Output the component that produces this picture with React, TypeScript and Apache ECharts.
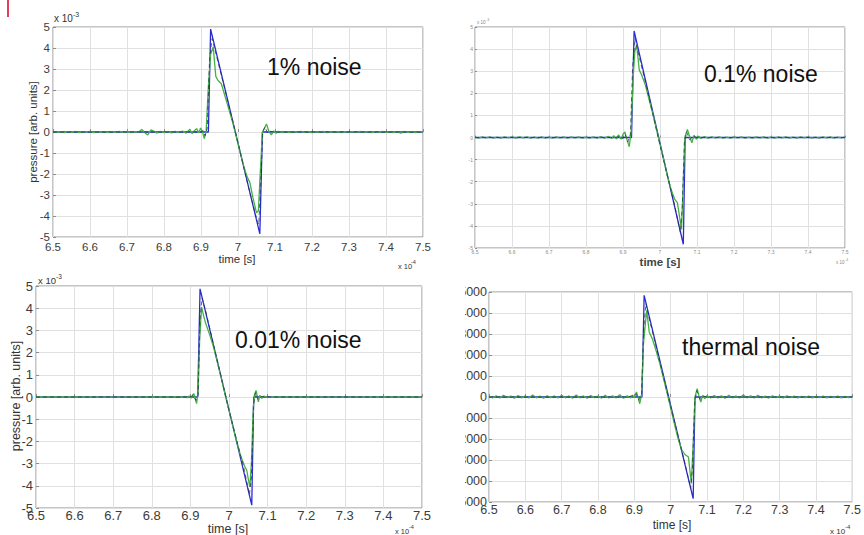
import React, { useEffect, useRef } from "react";
import * as echarts from "echarts";

const FONT = "'Liberation Sans', Arial, Helvetica, sans-serif";

// Time axis in units of 1e-4 s
const timeRange = [6.5, 7.5];
const timeStep = 0.1;
// Pressure axes: arb. units x 1e-3 for the noise cases, raw units for thermal
const pressureRange = [-5, 5];
const pressureStep = 1;
const thermalRange = [-5000, 5000];
const thermalStep = 1000;

const panelTitles = ["1% noise", "0.1% noise", "0.01% noise", "thermal noise"];

// ---- 1% noise ----
const noise1True = [[6.5, 0], [6.92, 0], [6.926, 4.9], [7.059, -4.85], [7.066, 0], [7.5, 0]];
const noise1Recon = [
  [6.5, 0.03], [6.51, -0.02], [6.52, 0.02], [6.53, -0.03], [6.54, 0.02], [6.55, -0.02], [6.56, 0.03], [6.57, -0.03],
  [6.58, 0.02], [6.59, -0.01], [6.6, 0.03], [6.61, -0.03], [6.62, 0.02], [6.63, -0.02], [6.64, 0.02], [6.65, -0.03],
  [6.66, 0.02], [6.67, -0.02], [6.68, 0.03], [6.69, -0.02], [6.7, 0.02], [6.71, -0.03], [6.72, 0.02], [6.73, -0.02],
  [6.74, 0.12], [6.75, -0.06], [6.756, -0.14], [6.765, 0.1], [6.772, 0.04], [6.78, -0.05], [6.79, 0.03], [6.8, -0.03],
  [6.81, 0.02], [6.82, -0.04], [6.83, 0.03], [6.84, -0.02], [6.85, 0.04], [6.86, -0.05], [6.87, 0.13], [6.876, -0.08],
  [6.882, 0.06], [6.888, 0.16], [6.894, -0.04], [6.899, 0.19], [6.904, 0.02], [6.909, -0.32], [6.914, 0.05],
  [6.92, 2.2], [6.926, 3.7], [6.933, 4.05], [6.94, 2.65], [6.946, 2.45], [6.955, 2.3], [6.965, 1.7], [6.975, 1.1],
  [6.985, 0.5], [6.995, -0.2], [7.005, -0.9], [7.015, -1.6], [7.025, -2.15], [7.032, -2.4], [7.04, -3.1],
  [7.05, -3.85], [7.055, -3.75], [7.06, -2.0], [7.066, 0.0], [7.072, 0.2], [7.077, 0.38], [7.083, 0.05],
  [7.09, -0.14], [7.097, 0.05], [7.103, -0.06], [7.11, 0.03], [7.12, -0.03], [7.13, 0.02], [7.14, -0.03],
  [7.15, 0.02], [7.16, -0.02], [7.17, 0.03], [7.18, -0.02], [7.19, 0.02], [7.2, -0.03], [7.21, 0.02], [7.22, -0.02],
  [7.23, 0.03], [7.24, -0.03], [7.25, 0.02], [7.26, -0.02], [7.27, 0.02], [7.28, -0.03], [7.29, 0.02], [7.3, -0.02],
  [7.31, 0.02], [7.32, -0.02], [7.33, 0.03], [7.34, -0.02], [7.35, 0.02], [7.36, -0.03], [7.37, 0.02], [7.38, -0.02],
  [7.39, 0.03], [7.4, -0.02], [7.41, 0.02], [7.42, -0.03], [7.43, 0.02], [7.44, -0.06], [7.45, 0.03], [7.46, -0.02],
  [7.47, 0.02], [7.48, -0.03], [7.49, 0.02], [7.5, 0.01],
];
const noise1Filtered = [
  [6.5, 0], [6.9, 0], [6.906, 0.06], [6.911, -0.18], [6.917, 0.2], [6.923, 3.4], [6.93, 4.45], [6.94, 3.75],
  [6.96, 2.35], [6.995, -0.15], [7.03, -2.75], [7.05, -4.1], [7.056, -4.4], [7.061, -2.6], [7.067, 0.0],
  [7.073, 0.25], [7.08, -0.06], [7.088, 0.03], [7.1, 0], [7.5, 0],
];

// ---- 0.1% noise ----
const noise01True = [[6.5, 0], [6.923, 0], [6.93, 4.82], [7.063, -4.83], [7.068, 0], [7.5, 0]];
const noise01Recon = [
  [6.5, 0.02], [6.51, -0.03], [6.52, 0.03], [6.53, -0.02], [6.54, 0.03], [6.55, -0.03], [6.56, 0.02], [6.57, -0.03],
  [6.58, 0.03], [6.59, -0.02], [6.6, 0.03], [6.61, -0.03], [6.62, 0.03], [6.63, -0.02], [6.64, 0.03], [6.65, -0.03],
  [6.66, 0.02], [6.67, -0.03], [6.68, 0.03], [6.69, -0.03], [6.7, 0.02], [6.71, -0.03], [6.72, 0.03], [6.73, -0.02],
  [6.74, 0.03], [6.75, -0.03], [6.76, 0.03], [6.77, -0.02], [6.78, 0.03], [6.79, -0.03], [6.8, 0.02], [6.81, -0.03],
  [6.82, 0.03], [6.83, -0.03], [6.84, 0.04], [6.85, -0.03], [6.86, 0.05], [6.87, -0.04], [6.875, 0.08],
  [6.882, -0.06], [6.888, 0.12], [6.895, -0.08], [6.9, 0.15], [6.905, 0.25], [6.911, -0.12], [6.917, -0.42],
  [6.922, 0.3], [6.927, 2.6], [6.932, 3.9], [6.937, 4.18], [6.944, 3.05], [6.95, 2.85], [6.96, 2.4], [6.97, 1.75],
  [6.98, 1.1], [6.99, 0.4], [7.0, -0.3], [7.01, -1.0], [7.02, -1.75], [7.03, -2.35], [7.04, -2.8], [7.047, -2.95],
  [7.053, -3.6], [7.058, -4.16], [7.062, -2.5], [7.067, 0.0], [7.074, 0.36], [7.08, 0.05], [7.086, -0.24],
  [7.092, 0.1], [7.098, -0.08], [7.105, 0.06], [7.11, -0.04], [7.12, 0.04], [7.13, -0.03], [7.14, 0.03],
  [7.15, -0.02], [7.16, 0.03], [7.17, -0.03], [7.18, 0.02], [7.19, -0.03], [7.2, 0.03], [7.21, -0.02], [7.22, 0.03],
  [7.23, -0.03], [7.24, 0.02], [7.25, -0.03], [7.26, 0.03], [7.27, -0.02], [7.28, 0.03], [7.29, -0.03], [7.3, 0.02],
  [7.31, -0.03], [7.32, 0.03], [7.33, -0.02], [7.34, 0.03], [7.35, -0.03], [7.36, 0.02], [7.37, -0.03], [7.38, 0.03],
  [7.39, -0.02], [7.4, 0.03], [7.41, -0.03], [7.42, 0.02], [7.43, -0.03], [7.44, 0.03], [7.45, -0.02], [7.46, 0.03],
  [7.47, -0.03], [7.48, 0.02], [7.49, -0.02], [7.5, 0.02],
];
const noise01Filtered = [
  [6.5, 0], [6.88, 0], [6.89, 0.05], [6.9, -0.05], [6.906, 0.15], [6.913, -0.2], [6.92, 0.15], [6.926, 3.2],
  [6.933, 4.5], [6.94, 3.9], [6.96, 2.55], [7.0, -0.35], [7.04, -3.1], [7.055, -4.3], [7.06, -3.2], [7.066, -0.2],
  [7.072, 0.25], [7.08, -0.1], [7.09, 0.05], [7.1, 0], [7.5, 0],
];

// ---- 0.01% noise ----
const noise001True = [[6.5, 0], [6.919, 0], [6.925, 4.87], [7.059, -4.87], [7.064, 0], [7.5, 0]];
const noise001Recon = [
  [6.5, 0], [6.6, 0.005], [6.7, -0.005], [6.8, 0.005], [6.85, 0], [6.87, 0.02], [6.88, -0.02], [6.886, 0.03],
  [6.892, -0.03], [6.897, 0.05], [6.902, -0.05], [6.906, 0.1], [6.909, 0.15], [6.913, -0.1], [6.916, -0.3],
  [6.92, 0.25], [6.924, 2.6], [6.929, 4.05], [6.935, 3.6], [6.94, 3.3], [6.95, 2.8], [6.96, 2.25], [6.97, 1.55],
  [6.98, 0.85], [6.99, 0.1], [7.0, -0.6], [7.01, -1.3], [7.02, -2.0], [7.03, -2.65], [7.04, -3.1], [7.046, -3.3],
  [7.05, -3.7], [7.054, -4.05], [7.058, -3.0], [7.063, -0.5], [7.066, 0.1], [7.07, 0.3], [7.073, 0.05],
  [7.076, -0.22], [7.08, 0.08], [7.085, -0.06], [7.09, 0.04], [7.1, -0.02], [7.11, 0.01], [7.12, 0], [7.2, 0.005],
  [7.3, -0.005], [7.4, 0.005], [7.5, 0],
];
const noise001Filtered = [
  [6.5, 0], [6.9, 0], [6.908, 0.08], [6.914, -0.15], [6.92, 0.1], [6.925, 3.5], [6.93, 4.45], [6.94, 3.85],
  [6.96, 2.35], [7.0, -0.6], [7.04, -3.3], [7.053, -4.4], [7.058, -3.6], [7.064, -0.3], [7.069, 0.2],
  [7.075, -0.1], [7.085, 0.02], [7.1, 0], [7.5, 0],
];

// ---- thermal noise ----
const thermalTrue = [[6.5, 0], [6.921, 0], [6.927, 4840], [7.062, -4840], [7.067, 0], [7.5, 0]];
const thermalRecon = [
  [6.5, 30], [6.51, -40], [6.52, 60], [6.53, -50], [6.54, 80], [6.55, -30], [6.56, 40], [6.57, -60], [6.58, 70],
  [6.59, -40], [6.6, 50], [6.61, -50], [6.62, 90], [6.63, -40], [6.64, 40], [6.65, -60], [6.66, 60], [6.67, -30],
  [6.68, 50], [6.69, -50], [6.7, 80], [6.71, -40], [6.72, 50], [6.73, -60], [6.74, 90], [6.75, -40], [6.76, 50],
  [6.77, -60], [6.78, 70], [6.79, -30], [6.8, 40], [6.81, -50], [6.82, 80], [6.83, -50], [6.84, 60], [6.85, -40],
  [6.86, 110], [6.87, -60], [6.88, 60], [6.89, -40], [6.895, 90], [6.9, -30], [6.906, 240], [6.911, -60],
  [6.915, -320], [6.92, 120], [6.925, 2500], [6.934, 4130], [6.941, 3100], [6.95, 2750], [6.96, 2200],
  [6.97, 1600], [6.98, 900], [6.99, 200], [7.0, -520], [7.01, -1250], [7.02, -1950], [7.03, -2500], [7.04, -2750],
  [7.049, -2860], [7.053, -3500], [7.057, -4120], [7.062, -2200], [7.067, 0], [7.073, 400], [7.078, 50],
  [7.083, -240], [7.088, 80], [7.094, -80], [7.1, 60], [7.11, -50], [7.12, 70], [7.13, -40], [7.14, 60],
  [7.15, -60], [7.16, 80], [7.17, -40], [7.18, 50], [7.19, -50], [7.2, 90], [7.21, -40], [7.22, 60], [7.23, -50],
  [7.24, 80], [7.25, -40], [7.26, 40], [7.27, -50], [7.28, 60], [7.29, -30], [7.3, 40], [7.31, -40], [7.32, 50],
  [7.33, -30], [7.34, 40], [7.35, -40], [7.36, 30], [7.37, -30], [7.38, 40], [7.39, -40], [7.4, 30], [7.41, -30],
  [7.42, 40], [7.43, -40], [7.44, 30], [7.45, -30], [7.46, 40], [7.47, -40], [7.48, 30], [7.49, -30], [7.5, 20],
];
const thermalFiltered = [
  [6.5, 0], [6.88, 0], [6.895, 60], [6.905, 150], [6.912, -150], [6.92, 100], [6.926, 3300], [6.932, 4450],
  [6.94, 3800], [6.96, 2400], [7.0, -450], [7.04, -3200], [7.055, -4350], [7.06, -3400], [7.066, -300],
  [7.072, 300], [7.08, -100], [7.09, 40], [7.1, 0], [7.5, 0],
];

const BLUE = "#2b2bd6";
const GREEN = "#45b045";
const DARK = "#1f3040";
const BORDER = "#8c8c8c";
const GRIDLINE = "#e0e0e0";

type PanelCfg = {
  rect: { left: number; top: number; width: number; height: number };
  tickSize: number;
  tickColor: string;
  xMargin: number;
  yMargin: number;
  tickLen: number;
  yRange: number[];
  yStep: number;
  truth: number[][];
  recon: number[][];
  filtered: number[][];
};

const panels: PanelCfg[] = [
  {
    rect: { left: 53, top: 27, width: 370, height: 210 },
    tickSize: 11.5, tickColor: "#3c3c3c", xMargin: 4, yMargin: 3, tickLen: 3,
    yRange: pressureRange, yStep: pressureStep,
    truth: noise1True, recon: noise1Recon, filtered: noise1Filtered,
  },
  {
    rect: { left: 475, top: 27, width: 370, height: 221 },
    tickSize: 5, tickColor: "#8a8a8a", xMargin: 1, yMargin: 2, tickLen: 2,
    yRange: pressureRange, yStep: pressureStep,
    truth: noise01True, recon: noise01Recon, filtered: noise01Filtered,
  },
  {
    rect: { left: 36, top: 286, width: 386, height: 222 },
    tickSize: 13, tickColor: "#3c3c3c", xMargin: 1, yMargin: 3, tickLen: 3,
    yRange: pressureRange, yStep: pressureStep,
    truth: noise001True, recon: noise001Recon, filtered: noise001Filtered,
  },
  {
    rect: { left: 489, top: 292, width: 365, height: 210 },
    tickSize: 12.5, tickColor: "#3c3c3c", xMargin: 1, yMargin: 2, tickLen: 3,
    yRange: thermalRange, yStep: thermalStep,
    truth: thermalTrue, recon: thermalRecon, filtered: thermalFiltered,
  },
];

function txt(x: number, y: number, text: string, size: number, extra: any = {}) {
  return {
    type: "text",
    x,
    y,
    z: 110,
    style: {
      text,
      fontSize: size,
      fontFamily: FONT,
      fill: extra.fill || "#333",
      fontWeight: extra.fontWeight || "normal",
      textAlign: extra.align || "left",
      textVerticalAlign: "middle",
      verticalAlign: "middle",
    },
    rotation: extra.rotation || 0,
  };
}

function buildOption() {
  const grid: any[] = [];
  const xAxis: any[] = [];
  const yAxis: any[] = [];
  const series: any[] = [];

  panels.forEach((p, i) => {
    grid.push({ ...p.rect, show: true, borderColor: BORDER, borderWidth: 1, backgroundColor: "transparent" });
    xAxis.push({
      type: "value",
      gridIndex: i,
      min: timeRange[0],
      max: timeRange[1],
      interval: timeStep,
      axisLine: { show: false },
      axisTick: { show: true, inside: true, length: p.tickLen, lineStyle: { color: BORDER } },
      splitLine: { show: true, lineStyle: { color: GRIDLINE, width: 1 } },
      axisLabel: {
        fontSize: p.tickSize,
        fontFamily: FONT,
        color: p.tickColor,
        margin: p.xMargin,
        formatter: (v: number) => String(Math.round(v * 10) / 10),
      },
    });
    yAxis.push({
      type: "value",
      gridIndex: i,
      min: p.yRange[0],
      max: p.yRange[1],
      interval: p.yStep,
      axisLine: { show: false },
      axisTick: { show: true, inside: true, length: p.tickLen, lineStyle: { color: BORDER } },
      splitLine: { show: true, lineStyle: { color: GRIDLINE, width: 1 } },
      axisLabel: {
        fontSize: p.tickSize,
        fontFamily: FONT,
        color: p.tickColor,
        margin: p.yMargin,
        formatter: (v: number) => String(Math.round(v)),
      },
    });
    const common = { type: "line", xAxisIndex: i, yAxisIndex: i, showSymbol: false, symbol: "none", silent: true };
    series.push({ ...common, name: "true " + i, data: p.truth, lineStyle: { color: BLUE, width: 1.3 }, z: 2 });
    series.push({ ...common, name: "recon " + i, data: p.recon, lineStyle: { color: GREEN, width: 1.3 }, z: 3 });
    series.push({
      ...common,
      name: "filtered " + i,
      data: p.filtered,
      lineStyle: { color: DARK, width: 0.9, type: [4, 3], opacity: 0.8 },
      z: 4,
    });
  });

  const graphic: any[] = [
    // mask that trims the left part of the thermal panel's tick labels
    { type: "rect", x: 432, y: 284, z: 100, shape: { width: 33, height: 232 }, style: { fill: "#ffffff" } },
    { type: "rect", x: 7, y: 0, z: 100, shape: { width: 2, height: 17 }, style: { fill: "#e8395f" } },

    txt(267, 67, panelTitles[0], 23, { fill: "#111" }),
    txt(704, 74, panelTitles[1], 23, { fill: "#111" }),
    txt(235, 340, panelTitles[2], 23, { fill: "#111" }),
    txt(682, 347, panelTitles[3], 23, { fill: "#111" }),

    txt(33, 132, "pressure [arb. units]", 11.5, { align: "center", rotation: Math.PI / 2 }),
    txt(16, 396, "pressure [arb. units]", 12.5, { align: "center", rotation: Math.PI / 2 }),

    txt(237, 259, "time [s]", 11.5, { align: "center" }),
    txt(660, 262, "time [s]", 11.5, { align: "center", fontWeight: "bold", fill: "#444" }),
    txt(228, 529, "time [s]", 12.5, { align: "center" }),
    txt(672, 525, "time [s]", 12, { align: "center" }),

    // axis multipliers
    txt(54, 18, "x 10", 10),
    txt(73, 14, "-3", 7),
    txt(398, 266, "x 10", 7.5),
    txt(411, 262, "-4", 5.5),

    txt(477, 22, "x 10", 4.5, { fill: "#888" }),
    txt(486, 20, "-3", 3.5, { fill: "#888" }),
    txt(836, 262, "x 10", 4.5, { fill: "#888" }),
    txt(845, 260, "-4", 3.5, { fill: "#888" }),

    txt(38, 280, "x 10", 9.5),
    txt(56, 276, "-3", 6.5),
    txt(395, 531, "x 10", 7.5),
    txt(409, 527, "-4", 5.5),

    txt(830, 531, "x 10", 8),
    txt(845, 527, "-4", 6),
  ];

  return {
    animation: false,
    backgroundColor: "#ffffff",
    textStyle: { fontFamily: FONT },
    grid,
    xAxis,
    yAxis,
    series,
    graphic,
  };
}

export default function App() {
  const ref = useRef<HTMLDivElement>(null);
  useEffect(() => {
    if (!ref.current) return;
    const chart = echarts.init(ref.current, undefined, { renderer: "svg" });
    chart.setOption(buildOption() as any);
    return () => chart.dispose();
  }, []);
  return (
    <div
      ref={ref}
      style={{ position: "absolute", left: 0, top: 0, width: 864, height: 535, background: "#fff" }}
    />
  );
}
